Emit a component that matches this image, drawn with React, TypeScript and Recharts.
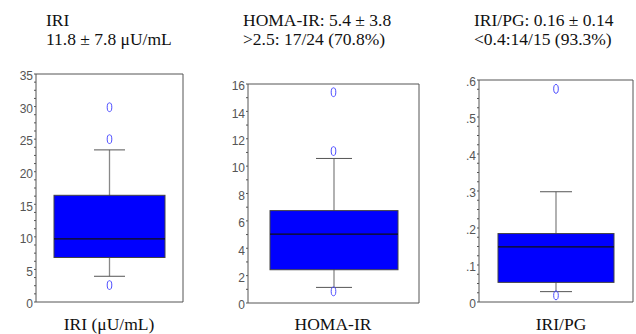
import React from "react";
import { ComposedChart, Bar, Scatter, XAxis, YAxis } from "recharts";

// values, one entry per panel
const panelNames = ["IRI", "HOMA-IR", "IRI/PG"];
const axisTitles = ["IRI (μU/mL)", "HOMA-IR", "IRI/PG"];
const titleLines = [
  ["IRI", "11.8 ± 7.8 μU/mL"],
  ["HOMA-IR: 5.4 ± 3.8", ">2.5: 17/24 (70.8%)"],
  ["IRI/PG: 0.16 ± 0.14", "<0.4:14/15 (93.3%)"],
];
const whiskerLow = [3.95, 1.14, 0.028];
const q1 = [6.83, 2.43, 0.053];
const median = [9.7, 5.03, 0.149];
const q3 = [16.38, 6.75, 0.185];
const whiskerHigh = [23.35, 10.56, 0.298];
const outliers = [
  [29.9, 25.0, 2.6],
  [15.4, 11.1, 0.85],
  [0.576, 0.018],
];
const yMax = [35, 16, 0.6];
const majorTicks = [
  [0, 5, 10, 15, 20, 25, 30, 35],
  [0, 2, 4, 6, 8, 10, 12, 14, 16],
  [0, 0.1, 0.2, 0.3, 0.4, 0.5, 0.6],
];
const minorPerMajor = [4, 2, 4];

// layout of each plot area (px)
const plots = [
  { left: 36, top: 74, w: 147, h: 228, box: 111, cap: 31 },
  { left: 248, top: 84, w: 171, h: 219, box: 128, cap: 36 },
  { left: 479, top: 80, w: 154, h: 222, box: 116, cap: 32 },
];
const titleX = [46, 243, 474];
const labelCenter = [109, 333, 561];

const ML = 4, YW = 32, MT = 6, TH = 4, RW = 4, MR = 2, BH = 4, MB = 9;
const AXIS = "#555";
const tickFont = {
  fontSize: 12,
  fill: "#555",
  fontFamily: "Liberation Sans, Arial, sans-serif",
  dy: 2,
};
const serif = '"Liberation Serif", "Times New Roman", Times, serif';

function allTicks(majors: number[], n: number) {
  const out: number[] = [];
  for (let i = 0; i < majors.length; i++) {
    out.push(majors[i]);
    if (i < majors.length - 1) {
      const step = (majors[i + 1] - majors[i]) / n;
      for (let k = 1; k < n; k++) out.push(majors[i] + step * k);
    }
  }
  return out;
}

function fmt(v: number, idx: number) {
  const isMajor = majorTicks[idx].some((m) => Math.abs(m - v) < 1e-9);
  if (!isMajor) return "";
  if (idx === 2) return v === 0 ? "0" : v.toFixed(1).replace(/^0/, "");
  return String(v);
}

function BoxShape(props: any) {
  const { x, y, width, height, payload, cap } = props;
  const top = Math.min(y, y + height);
  const bot = Math.max(y, y + height);
  const px = (v: number) =>
    bot - ((bot - top) * (v - payload.lo)) / (payload.hi - payload.lo);
  const cx = x + width / 2;
  return (
    <g>
      <line x1={cx} x2={cx} y1={px(payload.hi)} y2={px(payload.lo)} stroke="#888" strokeWidth={1.3} />
      <line x1={cx - cap / 2} x2={cx + cap / 2} y1={px(payload.hi)} y2={px(payload.hi)} stroke="#555" />
      <line x1={cx - cap / 2} x2={cx + cap / 2} y1={px(payload.lo)} y2={px(payload.lo)} stroke="#555" />
      <rect
        x={x}
        y={px(payload.q3)}
        width={width}
        height={px(payload.q1) - px(payload.q3)}
        fill="#0000ff"
        stroke="#444"
      />
      <line x1={x} x2={x + width} y1={px(payload.med)} y2={px(payload.med)} stroke="#111" strokeWidth={1.2} />
    </g>
  );
}

function Outlier(props: any) {
  const { cx, cy } = props;
  if (cx == null || cy == null) return null;
  return <ellipse cx={cx} cy={cy} rx={2.3} ry={4.4} fill="none" stroke="#4d4dff" strokeWidth={1} />;
}

function Panel({ idx }: { idx: number }) {
  const p = plots[idx];
  const row: any = {
    name: panelNames[idx],
    lo: whiskerLow[idx],
    q1: q1[idx],
    med: median[idx],
    q3: q3[idx],
    hi: whiskerHigh[idx],
  };
  outliers[idx].forEach((v, i) => (row["o" + i] = v));
  const data = [row];
  const ticks = allTicks(majorTicks[idx], minorPerMajor[idx]);
  const width = p.w + ML + YW + RW + MR;
  const height = p.h + MT + TH + BH + MB;
  return (
    <div style={{ position: "absolute", left: p.left - ML - YW, top: p.top - MT - TH }}>
      <ComposedChart
        width={width}
        height={height}
        data={data}
        margin={{ top: MT, right: MR, bottom: MB, left: ML }}
      >
        <XAxis
          dataKey="name"
          type="category"
          tick={false}
          tickSize={3}
          height={BH}
          stroke={AXIS}
        />
        <XAxis
          xAxisId="top"
          orientation="top"
          dataKey="name"
          type="category"
          tick={false}
          tickSize={3}
          height={TH}
          stroke={AXIS}
        />
        <YAxis
          type="number"
          domain={[0, yMax[idx]]}
          ticks={ticks}
          interval={0}
          tickFormatter={(v: number) => fmt(v, idx)}
          tickSize={2}
          tickMargin={1}
          width={YW}
          stroke={AXIS}
          tick={tickFont}
        />
        <YAxis
          yAxisId="r"
          orientation="right"
          type="number"
          domain={[0, yMax[idx]]}
          ticks={majorTicks[idx]}
          interval={0}
          tick={false}
          tickSize={3}
          width={RW}
          stroke={AXIS}
        />
        <Bar
          dataKey={(d: any) => [d.lo, d.hi]}
          barSize={p.box}
          isAnimationActive={false}
          shape={(s: any) => <BoxShape {...s} cap={p.cap} />}
        />
        {outliers[idx].map((_, i) => (
          <Scatter
            key={i}
            dataKey={"o" + i}
            isAnimationActive={false}
            shape={(s: any) => <Outlier {...s} />}
          />
        ))}
      </ComposedChart>
    </div>
  );
}

export default function App() {
  return (
    <div
      style={{
        position: "absolute",
        left: 0,
        top: 0,
        width: 636,
        height: 334,
        overflow: "hidden",
        background: "#fff",
      }}
    >
      {titleLines.map((lines, i) => (
        <div
          key={i}
          style={{
            position: "absolute",
            left: titleX[i],
            top: 11,
            fontFamily: serif,
            fontSize: 17.5,
            lineHeight: "19px",
            color: "#111",
            whiteSpace: "nowrap",
          }}
        >
          <div>{lines[0]}</div>
          <div>{lines[1]}</div>
        </div>
      ))}
      {[0, 1, 2].map((i) => (
        <Panel key={i} idx={i} />
      ))}
      {axisTitles.map((t, i) => (
        <div
          key={t}
          style={{
            position: "absolute",
            left: labelCenter[i] - 100,
            width: 200,
            top: 315,
            textAlign: "center",
            fontFamily: serif,
            fontSize: 17.5,
            lineHeight: "19px",
            color: "#111",
            whiteSpace: "nowrap",
          }}
        >
          {t}
        </div>
      ))}
    </div>
  );
}
